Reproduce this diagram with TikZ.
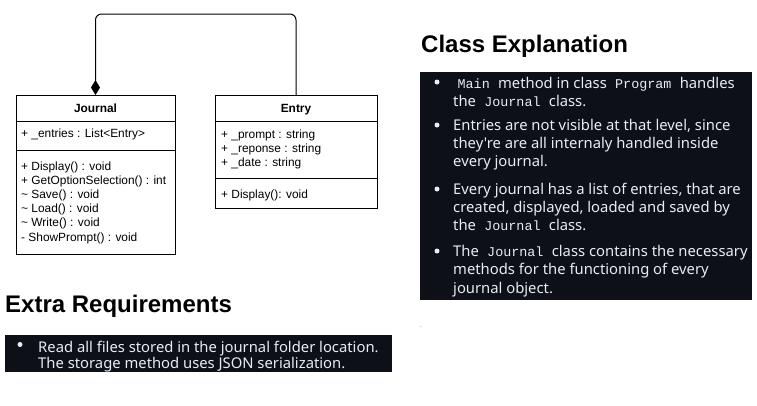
\documentclass[tikz,border=0pt]{standalone}
\usepackage{fontspec}
\setmainfont{Liberation Sans}
\newfontfamily\bodyfont{Noto Sans}
\newfontfamily\codefont{Liberation Mono}
\usetikzlibrary{arrows.meta}
\definecolor{panel}{HTML}{0D1117}
\definecolor{paneltext}{HTML}{E6EDF3}
\newcommand\cde[1]{\hspace{0.3em}{\codefont\fontsize{13.4}{13}\selectfont #1}\hspace{0.3em}}
\begin{document}
\begin{tikzpicture}[x=1pt,y=-1pt,
  comp/.style={draw=black, line width=0.8pt, fill=white, inner sep=0pt, outer sep=0pt, anchor=north west},
  umltext/.style={anchor=base west, inner sep=0pt, font=\fontsize{11.9}{14}\selectfont},
  umltitle/.style={anchor=base, inner sep=0pt, font=\bfseries\fontsize{11.9}{14}\selectfont},
  heading/.style={anchor=base west, inner sep=0pt, font=\bfseries\fontsize{24}{26}\selectfont},
  panelbox/.style={fill=panel, draw=none, inner sep=0pt, outer sep=0pt, anchor=north west},
  bodyline/.style={anchor=base west, inner sep=0pt, text=paneltext, font=\bodyfont\fontsize{14.8}{18}\selectfont},
  bullet/.style={circle, fill=paneltext, inner sep=0pt, minimum size=5pt},
  assoc/.style={draw=black, line width=1pt, rounded corners=6pt}
]
\useasboundingbox (0,0) rectangle (757,405);
\fill[white] (0,0) rectangle (757,405);

% Journal class
\node[comp, minimum width=159pt, minimum height=26pt] (jt) at (16,95) {};
\node[comp, minimum width=159pt, minimum height=29pt] (ja) at (16,121) {};
\node[comp, minimum width=159pt, minimum height=104pt] (jm) at (16,150) {};
\node[umltitle] (jtt) at (95.5,112.5) {Journal};
\node[umltext] (ja1) at (21,137.5) {+ \_entries : List<Entry>};
\node[umltext] (jm1) at (21,170) {+ Display() : void};
\node[umltext] (jm2) at (21,184.2) {+ GetOptionSelection() : int};
\node[umltext] (jm3) at (21,198.4) {\textasciitilde{} Save() : void};
\node[umltext] (jm4) at (21,212.6) {\textasciitilde{} Load() : void};
\node[umltext] (jm5) at (21,226.8) {\textasciitilde{} Write() : void};
\node[umltext] (jm6) at (21,241) {- ShowPrompt() : void};

% Entry class
\node[comp, minimum width=162pt, minimum height=26pt] (et) at (215,95) {};
\node[comp, minimum width=162pt, minimum height=57pt] (ea) at (215,121) {};
\node[comp, minimum width=162pt, minimum height=30pt] (em) at (215,178) {};
\node[umltitle] (ett) at (296,112.5) {Entry};
\node[umltext] (ea1) at (221,138) {+ \_prompt : string};
\node[umltext] (ea2) at (221,152) {+ \_reponse : string};
\node[umltext] (ea3) at (221,166) {+ \_date : string};
\node[umltext] (em1) at (221,198.5) {+ Display(): void};

% composition
\draw[assoc, {Diamond[length=15pt,width=9pt]}-] (jt.north) -- ++(0,-81) -| (et.north);

% Class Explanation
\node[heading] (h1) at (421,52) {Class Explanation};
\node[panelbox, minimum width=332pt, minimum height=228pt] (pb1) at (420,72) {};
\node[bullet] (b1) at (437,82) {};
\node[bodyline] (l1) at (453,88) {\cde{Main} method in class \cde{Program} handles};
\node[bodyline] (l2) at (453,106.5) {the \cde{Journal} class.};
\node[bullet] (b2) at (437,125) {};
\node[bodyline] (l3) at (453,130) {Entries are not visible at that level, since};
\node[bodyline] (l4) at (453,148) {they're are all internaly handled inside};
\node[bodyline] (l5) at (453,166) {every journal.};
\node[bullet] (b3) at (437,189) {};
\node[bodyline] (l6) at (453,194) {Every journal has a list of entries, that are};
\node[bodyline] (l7) at (453,212) {created, displayed, loaded and saved by};
\node[bodyline] (l8) at (453,230.5) {the \cde{Journal} class.};
\node[bullet] (b4) at (437,251) {};
\node[bodyline] (l9) at (453,256) {The \cde{Journal} class contains the necessary};
\node[bodyline] (l10) at (453,274.5) {methods for the functioning of every};
\node[bodyline] (l11) at (453,293) {journal object.};
\node[anchor=base west, inner sep=0pt, font=\fontsize{6}{6}\selectfont, text=black!70] (dot) at (420,327) {.};

% Extra Requirements
\node[heading] (h2) at (5,312) {Extra Requirements};
\node[panelbox, minimum width=387pt, minimum height=37.5pt] (pb2) at (5,334.5) {};
\node[bullet] (b5) at (20,344.5) {};
\node[bodyline] (r1) at (38,352) {Read all files stored in the journal folder location.};
\node[bodyline] (r2) at (38,368.5) {The storage method uses JSON serialization.};
\end{tikzpicture}
\end{document}
